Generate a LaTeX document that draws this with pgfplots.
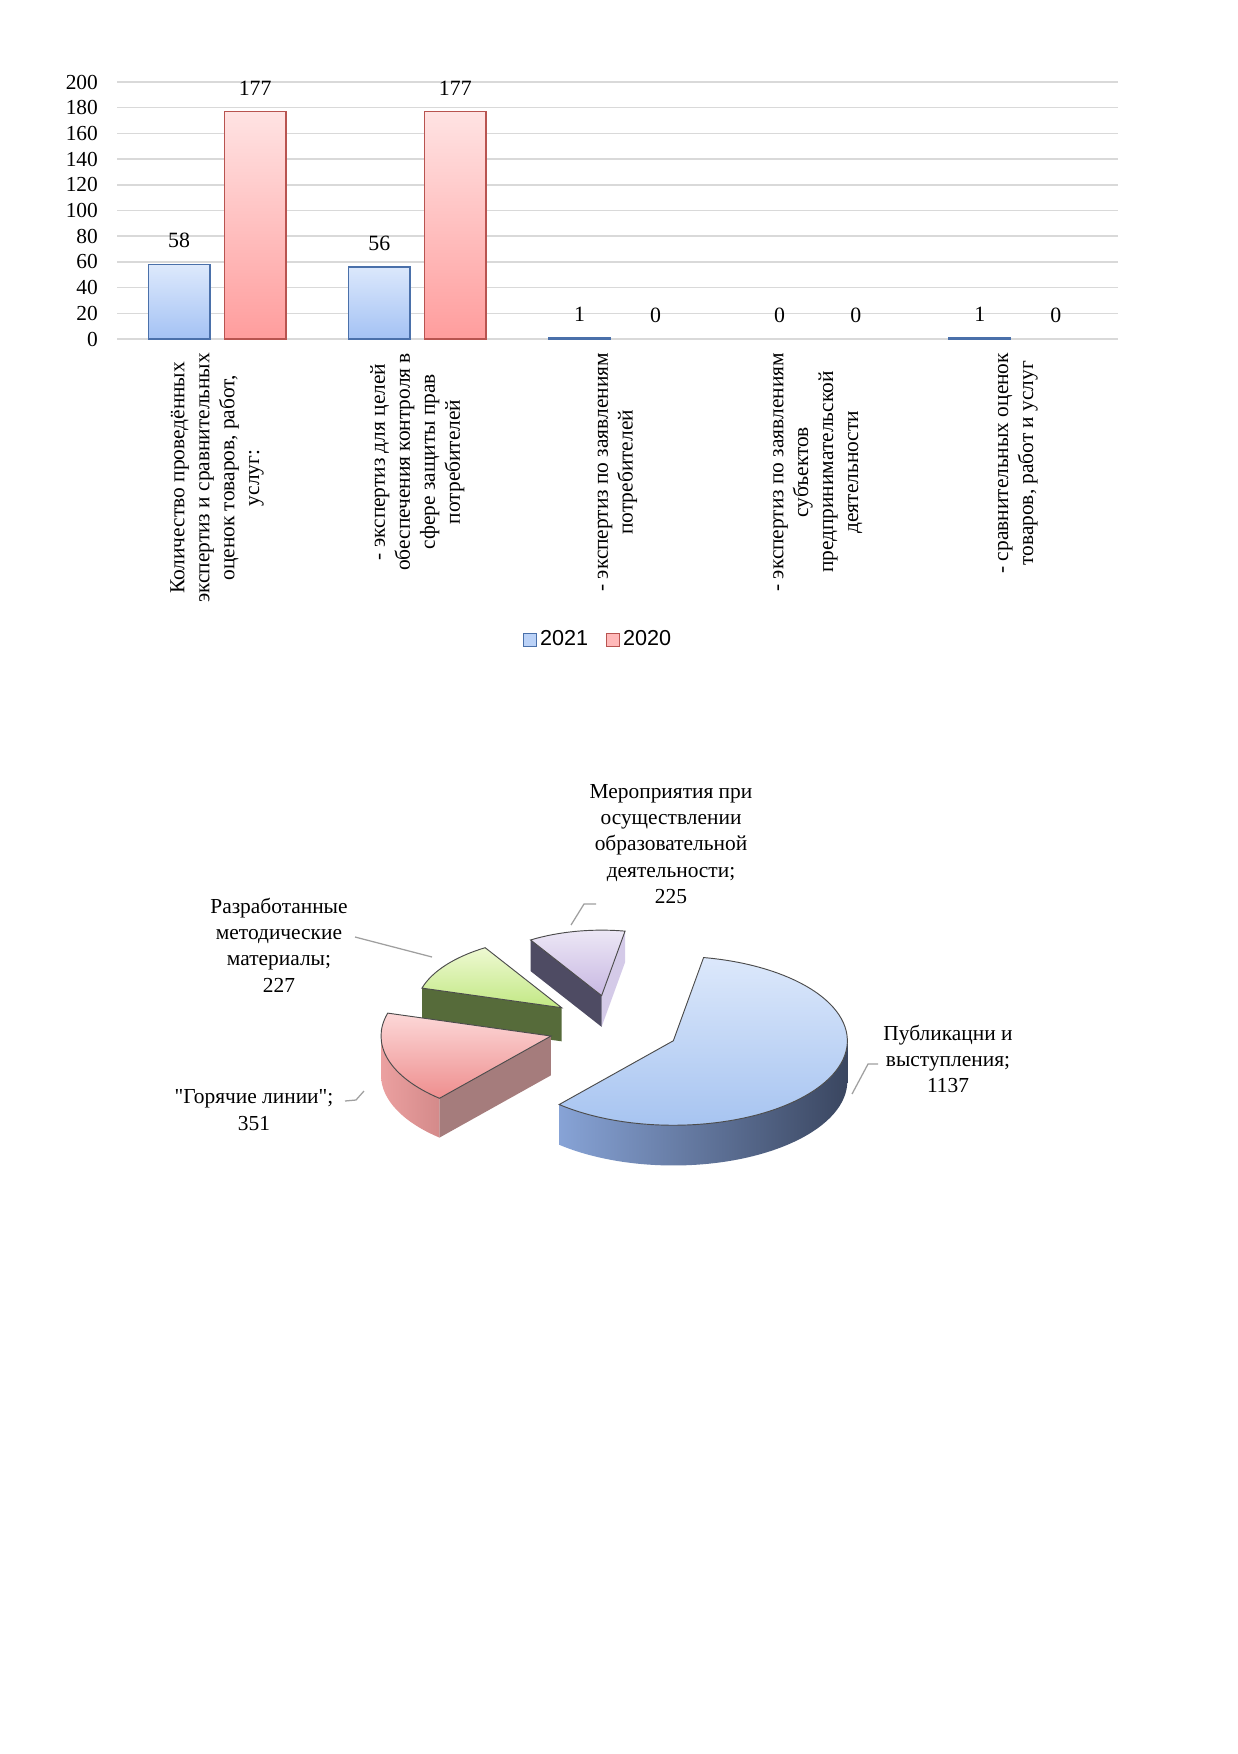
\documentclass[border=0pt]{standalone}
\usepackage{fontspec}
\setmainfont{Liberation Serif}
\newfontfamily\legfont{Liberation Sans}
\newfontfamily\nolig{Liberation Serif}[Ligatures=TeXOff]
\usepackage{pgfplots}
\usepackage{pgfplotstable}
\pgfplotsset{compat=1.18}
\newlength\pxu\setlength\pxu{0.48125pt}%
\definecolor{gridgray}{HTML}{D9D9D9}%
\definecolor{blueedge}{HTML}{4A70AA}%
\definecolor{bluetop}{HTML}{DDE9FC}%
\definecolor{bluebot}{HTML}{A4C2F4}%
\definecolor{rededge}{HTML}{B85450}%
\definecolor{redtop}{HTML}{FFE3E3}%
\definecolor{redbot}{HTML}{FF9D9D}%
% pie colours
\definecolor{pur-t}{HTML}{EDE8F6}\definecolor{pur-b}{HTML}{C8B8E2}%
\definecolor{pur-sl}{HTML}{D6CCE9}\definecolor{pur-sr}{HTML}{B8A8D4}%
\definecolor{pur-f1}{HTML}{D4CAE8}\definecolor{pur-f2}{HTML}{4E4B63}%
\definecolor{gre-t}{HTML}{EEF9D2}\definecolor{gre-b}{HTML}{C2E884}%
\definecolor{gre-sl}{HTML}{8FB060}\definecolor{gre-sr}{HTML}{6E8A48}%
\definecolor{gre-f1}{HTML}{9FC070}\definecolor{gre-f2}{HTML}{566B3A}%
\definecolor{red-t}{HTML}{FCD8D8}\definecolor{red-b}{HTML}{EE8E8E}%
\definecolor{red-sl}{HTML}{EBA0A0}\definecolor{red-sr}{HTML}{D48A8A}%
\definecolor{red-f1}{HTML}{C49090}\definecolor{red-f2}{HTML}{A57C7C}%
\definecolor{blu-t}{HTML}{DCE8FB}\definecolor{blu-b}{HTML}{A4C2F0}%
\definecolor{blu-sl}{HTML}{87A3D6}\definecolor{blu-sr}{HTML}{3A4660}%
\definecolor{blu-f1}{HTML}{6F86B4}\definecolor{blu-f2}{HTML}{4A5A7C}%
\pgfplotstableread{
cat v2021 v2020
0 58 177
1 56 177
2 1 0
3 0 0
4 1 0
}\bardata
\pgfplotstableread{
name value
Meropriyatiya 225
Razrabotannye 227
Goryachie 351
Publikatsii 1137
}\piedata
\pgfplotstablegetelem{0}{value}\of\piedata\let\vA\pgfplotsretval
\pgfplotstablegetelem{1}{value}\of\piedata\let\vB\pgfplotsretval
\pgfplotstablegetelem{2}{value}\of\piedata\let\vC\pgfplotsretval
\pgfplotstablegetelem{3}{value}\of\piedata\let\vD\pgfplotsretval
\pgfmathsetmacro\ptot{\vA+\vB+\vC+\vD}%
\pgfmathsetmacro\aA{80}%
\pgfmathsetmacro\aB{\aA+360*(\vA/\ptot)}%
\pgfmathsetmacro\aC{\aB+360*(\vB/\ptot)}%
\pgfmathsetmacro\aD{\aC+360*(\vC/\ptot)}%
\pgfmathsetmacro\aE{\aD+360*(\vD/\ptot)}%
\def\pcx{614}\def\pcy{-1027}\def\prx{173}\def\pry{84}\def\pd{0.38}\def\ph{40}%
\newcommand\pieslice[3]{%
  \pgfmathsetmacro\aone{#1}\pgfmathsetmacro\atwo{#2}%
  \pgfmathsetmacro\sm{(\aone+\atwo)/2}%
  \pgfmathsetmacro\sf{0.937-0.16*sin(\sm)}%
  \pgfmathsetmacro\rxs{\prx*\sf}%
  \pgfmathsetmacro\rys{\pry*\sf}%
  \pgfmathsetmacro\phs{\ph*\sf}%
  \pgfmathsetmacro\sox{\pcx+\pd*\prx*cos(\sm)}%
  \pgfmathsetmacro\soy{\pcy+\pd*\pry*sin(\sm)}%
  \pgfmathsetmacro\soyh{\soy-\phs}%
  \pgfmathsetmacro\xa{\sox+\rxs*cos(\aone)}%
  \pgfmathsetmacro\ya{\soy+\rys*sin(\aone)}%
  \pgfmathsetmacro\yah{\ya-\phs}%
  \pgfmathsetmacro\xb{\sox+\rxs*cos(\atwo)}%
  \pgfmathsetmacro\yb{\soy+\rys*sin(\atwo)}%
  \pgfmathsetmacro\ybh{\yb-\phs}%
  \pgfmathsetmacro\ss{max(\aone,180)}%
  \pgfmathsetmacro\se{min(\atwo,360)}%
  \pgfmathsetmacro\xs{\sox+\rxs*cos(\ss)}%
  \pgfmathsetmacro\ys{\soy+\rys*sin(\ss)}%
  \pgfmathsetmacro\xe{\sox+\rxs*cos(\se)}%
  \pgfmathsetmacro\yeh{\soy+\rys*sin(\se)-\phs}%
  \pgfmathtruncatemacro\fa{cos(\aone)>0}%
  \pgfmathtruncatemacro\fb{cos(\atwo)<0}%
  \pgfmathtruncatemacro\fs{\ss<\se}%
  \ifnum\fa=1
    \edef\sdo{\noexpand\fill[#3f1] (axis cs:\sox,\soy) -- (axis cs:\xa,\ya) -- (axis cs:\xa,\yah) -- (axis cs:\sox,\soyh) -- cycle;}\sdo
  \fi
  \ifnum\fb=1
    \edef\sdo{\noexpand\fill[#3f2] (axis cs:\sox,\soy) -- (axis cs:\xb,\yb) -- (axis cs:\xb,\ybh) -- (axis cs:\sox,\soyh) -- cycle;}\sdo
  \fi
  \ifnum\fs=1
    \edef\sdo{\noexpand\path[left color=#3sl, right color=#3sr] (axis cs:\xs,\ys) arc[start angle=\ss, end angle=\se, x radius=\rxs\pxu, y radius=\rys\pxu] -- (axis cs:\xe,\yeh) arc[start angle=\se, end angle=\ss, x radius=\rxs\pxu, y radius=\rys\pxu] -- cycle;}\sdo
  \fi
  \edef\sdo{\noexpand\path[top color=#3t, bottom color=#3b, draw=black!70, line width=0.45pt] (axis cs:\sox,\soy) -- (axis cs:\xa,\ya) arc[start angle=\aone, end angle=\atwo, x radius=\rxs\pxu, y radius=\rys\pxu] -- cycle;}\sdo
}
\newcommand\tfont{\fontsize{10.3}{12}\selectfont}
\begin{document}
\begin{tikzpicture}
\fill[white] (0,0) rectangle (1237\pxu,-1754\pxu);
\begin{axis}[
  at={(117\pxu,-339\pxu)}, anchor=south west,
  scale only axis, width=1001\pxu, height=257\pxu,
  xmin=-0.5, xmax=4.5, ymin=0, ymax=200,
  enlargelimits=false, clip=false,
  xtick={0,1,2,3,4},
  xticklabels={
    {Количество проведённых\\экспертиз и сравнительных\\оценок товаров, работ,\\услуг:},
    {- экспертиз для целей\\обеспечения контроля в\\сфере защиты прав\\потребителей},
    {- экспертиз по заявлениям\\потребителей},
    {- экспертиз по заявлениям\\субъектов\\предпринимательской\\деятельности},
    {- сравнительных оценок\\товаров, работ и услуг}},
  ytick={0,20,...,200},
  ymajorgrids, grid style={draw=gridgray, line width=0.7pt},
  axis line style={draw=none}, major tick length=0pt,
  tick label style={font=\tfont},
  /pgf/number format/assume math mode=true,
  xticklabel style={rotate=90, anchor=east, align=center, inner xsep=6.5pt, inner ysep=0pt},
  yticklabel style={anchor=east, inner xsep=9pt},
  legend style={at={(0.481,-1.171)}, anchor=center, draw=none, fill=none,
    legend columns=2, font=\legfont\fontsize{10.4}{12}\selectfont,
    nodes={inner sep=1.5pt},
    /tikz/every even column/.append style={column sep=7pt}},
  legend image code/.code={\draw[#1] (0pt,-3.1pt) rectangle (6.2pt,3.1pt);},
]
\addplot[ybar, bar width=29.6pt, bar shift=-18.3pt, draw=blueedge, line width=0.7pt,
  top color=bluetop, bottom color=bluebot,
  y filter/.expression={y==0 ? nan : y}, unbounded coords=discard, forget plot]
  table[x=cat, y=v2021]{\bardata};
\addplot[ybar, bar width=29.6pt, bar shift=18.3pt, draw=rededge, line width=0.7pt,
  top color=redtop, bottom color=redbot,
  y filter/.expression={y==0 ? nan : y}, unbounded coords=discard, forget plot]
  table[x=cat, y=v2020]{\bardata};
\addplot[only marks, mark=none,
  nodes near coords, nodes near coords style={font=\fontsize{10.5}{12}\selectfont, text=black, anchor=south, yshift=4.3pt},
  forget plot] table[x expr=\thisrow{cat}-0.19, y=v2021]{\bardata};
\addplot[only marks, mark=none,
  nodes near coords, nodes near coords style={font=\fontsize{10.5}{12}\selectfont, text=black, anchor=south, yshift=4.3pt},
  forget plot] table[x expr=\thisrow{cat}+0.19, y=v2020]{\bardata};
\addlegendimage{draw=blueedge, fill=bluetop!40!bluebot, line width=0.6pt}
\addlegendentry{2021}
\addlegendimage{draw=rededge, fill=redtop!40!redbot, line width=0.6pt}
\addlegendentry{2020}
\end{axis}
\begin{axis}[at={(0pt,0pt)}, anchor=north west, x=\pxu, y=\pxu,
  xmin=0, xmax=1237, ymin=-1754, ymax=0, hide axis, clip=false]
\pieslice{\aA}{\aB}{pur-}
\pieslice{\aB}{\aC}{gre-}
\pieslice{\aC}{\aD}{red-}
\pieslice{\aD}{\aE}{blu-}
\draw[gray!75, line width=0.6pt] (axis cs:571,-925) -- (axis cs:584,-904) -- (axis cs:596,-904);
\draw[gray!75, line width=0.6pt] (axis cs:355,-937) -- (axis cs:432,-957);
\draw[gray!75, line width=0.6pt] (axis cs:345,-1101) -- (axis cs:356,-1100) -- (axis cs:364,-1091);
\draw[gray!75, line width=0.6pt] (axis cs:852,-1094) -- (axis cs:868,-1064) -- (axis cs:878,-1064);
\node[align=center, font=\fontsize{10.3}{12.66}\selectfont] at (axis cs:671,-844) {Мероприятия при\\осуществлении\\образовательной\\деятельности;\\225};
\node[align=center, font=\fontsize{10.3}{12.66}\selectfont] at (axis cs:279,-945) {Разработанные\\методические\\материалы;\\227};
\node[align=center, font=\fontsize{10.3}{12.66}\selectfont] at (axis cs:254,-1110) {{\nolig "Горячие линии";}\\351};
\node[align=center, font=\fontsize{10.3}{12.66}\selectfont] at (axis cs:948,-1059) {Публикацни и\\выступления;\\1137};
\end{axis}
\end{tikzpicture}
\end{document}
